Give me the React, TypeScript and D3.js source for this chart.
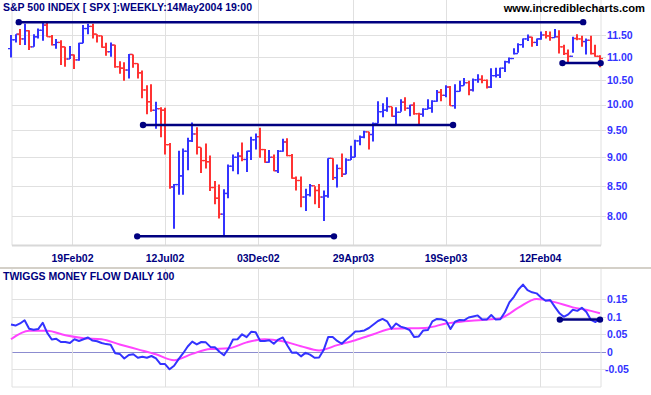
import { useEffect, useRef } from "react";
import * as d3 from "d3";

// weekly bars, S&P 500 / 100
const firstWeek = "2001-11-16";
const highs = [
  11.5, 11.52, 11.64, 11.76, 11.61, 11.52, 11.65, 11.81, 11.79, 11.5,
  11.41, 11.38, 11.23, 11.25, 11.06, 11.32, 11.73, 11.76, 11.76, 11.52,
  11.48, 11.32, 11.33, 11.28, 10.91, 10.89, 11.07, 11.06, 10.86, 10.71,
  10.4, 10.42, 10.06, 9.95, 9.94, 9.26, 8.53, 9.12, 9.16, 9.36,
  9.65, 9.56, 9.18, 9.25, 9.03, 8.58, 8.52, 8.44, 8.87, 9.05,
  9.09, 9.27, 9.12, 9.38, 9.44, 9.55, 9.15, 9.13, 9.05, 9.13,
  9.34, 9.35, 9.06, 8.66, 8.66, 8.45, 8.53, 8.49, 8.53, 8.42,
  8.98, 8.98, 8.87, 9.07, 8.98, 9.21, 9.32, 9.4, 9.49, 9.47,
  9.65, 10.07, 10.03, 10.15, 9.96, 9.95, 10.11, 10.15, 10.0, 10.05,
  9.84, 9.93, 10.11, 10.09, 10.3, 10.32, 10.4, 10.38, 10.42, 10.49,
  10.55, 10.49, 10.54, 10.63, 10.61, 10.52, 10.76, 10.77, 10.77, 10.92,
  10.99, 11.2, 11.31, 11.42, 11.51, 11.46, 11.42, 11.58, 11.59, 11.58,
  11.64, 11.61, 11.28, 11.17, 11.46, 11.52, 11.48, 11.42, 11.48, 11.28, 11.04,
];
const lows = [
  10.99, 11.33, 11.27, 11.27, 11.16, 11.23, 11.42, 11.37, 11.46, 11.26,
  11.19, 10.83, 10.79, 10.96, 10.74, 10.92, 11.31, 11.52, 11.42, 11.33,
  11.21, 11.03, 11.01, 10.77, 10.64, 10.49, 10.54, 10.77, 10.54, 10.13,
  9.81, 9.86, 9.53, 9.37, 9.05, 8.45, 7.8, 8.35, 8.35, 8.77,
  9.28, 9.05, 8.72, 8.8, 8.41, 8.19, 7.96, 7.69, 8.29, 8.75,
  8.7, 8.93, 8.74, 8.95, 9.14, 8.99, 8.9, 8.9, 8.75, 8.72,
  9.1, 9.02, 8.62, 8.42, 8.14, 8.08, 8.32, 8.19, 8.13, 7.92,
  8.3, 8.6, 8.47, 8.65, 8.7, 8.95, 9.0, 9.22, 9.35, 9.14,
  9.29, 9.63, 9.75, 9.86, 9.76, 9.6, 9.86, 9.88, 9.77, 9.8,
  9.62, 9.76, 9.91, 9.84, 10.06, 10.07, 10.15, 9.98, 9.92, 10.27,
  10.39, 10.19, 10.27, 10.45, 10.44, 10.33, 10.34, 10.56, 10.55, 10.68,
  10.86, 11.06, 11.1, 11.21, 11.36, 11.23, 11.25, 11.39, 11.42, 11.37,
  11.44, 11.08, 11.05, 10.88, 11.1, 11.38, 11.23, 11.06, 11.06, 11.01, 10.78,
];
const closes = [
  11.39, 11.52, 11.41, 11.6, 11.23, 11.46, 11.61, 11.73, 11.46, 11.28,
  11.33, 11.23, 10.96, 11.05, 10.94, 11.31, 11.65, 11.7, 11.52, 11.48,
  11.22, 11.12, 11.27, 10.79, 10.76, 10.72, 11.06, 10.86, 10.66, 10.3,
  10.06, 9.89, 9.92, 9.89, 9.23, 8.48, 8.52, 8.67, 9.11, 9.3,
  9.43, 9.18, 8.94, 8.92, 8.47, 8.29, 8.03, 8.37, 8.84, 9.0,
  9.02, 8.96, 9.11, 9.32, 9.38, 9.14, 8.91, 9.0, 8.76, 9.11,
  9.28, 9.03, 8.63, 8.59, 8.31, 8.35, 8.5, 8.42, 8.31, 8.33,
  8.98, 8.64, 8.8, 8.7, 8.95, 9.0, 9.3, 9.37, 9.47, 9.42,
  9.63, 9.86, 9.89, 9.96, 9.77, 9.85, 10.05, 9.93, 9.99, 9.82,
  9.81, 9.91, 9.93, 10.07, 10.25, 10.19, 10.36, 9.98, 10.27, 10.39,
  10.45, 10.3, 10.51, 10.52, 10.5, 10.36, 10.6, 10.61, 10.76, 10.9,
  10.97, 11.08, 11.28, 11.41, 11.45, 11.33, 11.41, 11.5, 11.48, 11.44,
  11.46, 11.23, 11.08, 11.02, 11.42, 11.41, 11.35, 11.38, 11.08, 11.02, 10.97,
];
const priceTicks = [8, 8.5, 9, 9.5, 10, 10.5, 11, 11.5];
const dateTicks = ["2002-02-19", "2002-07-12", "2002-12-03", "2003-04-29", "2003-09-19", "2004-02-12"];

// Twiggs money flow, one reading per week, and its signal line every 4 weeks
const tmf = [
  0.078, 0.075, 0.081, 0.09, 0.066, 0.063, 0.065, 0.083, 0.054, 0.035,
  0.037, 0.028, 0.028, 0.025, 0.036, 0.031, 0.036, 0.041, 0.032, 0.03,
  0.025, 0.022, 0.02, -0.004, -0.006, -0.019, -0.009, -0.007, -0.017, -0.014,
  -0.017, -0.012, -0.019, -0.035, -0.035, -0.05, -0.04, -0.021, -0.004, 0.015,
  0.029, 0.021, 0.028, 0.027, 0.014, 0.013, 0.0, -0.01, 0.009, 0.035,
  0.036, 0.05, 0.042, 0.057, 0.056, 0.031, 0.031, 0.033, 0.023, 0.035,
  0.041, 0.018, -0.003, -0.002, -0.013, -0.003, -0.008, -0.017, -0.016, 0.005,
  0.042, 0.042, 0.031, 0.023, 0.035, 0.046, 0.058, 0.059, 0.061, 0.068,
  0.078, 0.088, 0.094, 0.087, 0.066, 0.081, 0.072, 0.068, 0.062, 0.042,
  0.044, 0.061, 0.062, 0.087, 0.094, 0.093, 0.089, 0.065, 0.086, 0.091,
  0.09, 0.098, 0.101, 0.104, 0.092, 0.092, 0.105, 0.092, 0.093, 0.113,
  0.141, 0.157, 0.178, 0.192, 0.176, 0.17, 0.167, 0.155, 0.146, 0.148,
  0.129, 0.111, 0.1, 0.107, 0.12, 0.117, 0.126, 0.114, 0.091, 0.085, 0.094,
];
const signalWeeks = [0, 4, 8, 12, 16, 20, 24, 28, 32, 36, 40, 44, 48, 52, 56, 60, 64, 68, 72, 76, 80, 84, 88, 92, 96, 100, 104, 108, 112, 116, 120, 124, 128, 130];
const signal = [
  0.036, 0.06, 0.06, 0.047, 0.039, 0.036, 0.021, 0.007, -0.007, -0.024,
  -0.006, 0.008, 0.01, 0.027, 0.036, 0.03, 0.016, 0.004, 0.019, 0.033,
  0.05, 0.066, 0.067, 0.069, 0.081, 0.087, 0.091, 0.096, 0.126, 0.151,
  0.142, 0.127, 0.117, 0.11,
];
const tmfTicks = [-0.05, 0, 0.05, 0.1, 0.15];
const tmfTickLabels = ["-0.05", "0", "0.05", "0.1", "0.15"];

// drawn support / resistance lines
const priceLines = [
  { from: "2001-11-28", to: "2004-04-18", level: 11.8 },
  { from: "2002-06-08", to: "2003-09-30", level: 9.6 },
  { from: "2002-05-30", to: "2003-03-30", level: 7.68 },
  { from: "2004-03-17", to: "2004-05-15", level: 10.87 },
];
const tmfLines = [{ from: "2004-03-13", to: "2004-05-14", level: 0.092 }];

const NAVY = "#000080";
const BLUE = "#3333ff";
const RED = "#ff3333";
const GRID = "#e0e0e0";
const FONT = "'Liberation Sans', Arial, sans-serif";

function App() {
  const ref = useRef<SVGSVGElement>(null);

  useEffect(() => {
    if (!ref.current) return;
    const svg = d3.select(ref.current);
    svg.selectAll("*").remove();

    const parse = d3.timeParse("%Y-%m-%d");
    const start = parse(firstWeek)!;
    const weeks = closes.map((_, i) => d3.timeDay.offset(start, 7 * i));

    const left = 12, right = 601;
    const x = d3.scaleTime().domain([weeks[0], weeks[weeks.length - 1]]).range([11, 600]);
    const y = d3.scaleLog().domain([8, 11.5]).range([216, 35]);
    const y2 = d3.scaleLinear().domain([-0.05, 0.15]).range([369.3, 299.3]);

    const top = { t: 0, b: 245.5 };
    const bot = { t: 269, b: 387 };

    svg.append("rect").attr("width", 651).attr("height", 395).attr("fill", "#fff");

    // ---- price panel grid
    const g1 = svg.append("g");
    g1.selectAll(".hg")
      .data(priceTicks)
      .enter()
      .append("line")
      .attr("x1", left)
      .attr("x2", right + 5)
      .attr("y1", (d) => Math.round(y(d)) + 0.5)
      .attr("y2", (d) => Math.round(y(d)) + 0.5)
      .attr("stroke", GRID);
    g1.selectAll(".vg")
      .data(dateTicks)
      .enter()
      .append("line")
      .attr("x1", (d) => Math.round(x(parse(d)!)) + 0.5)
      .attr("x2", (d) => Math.round(x(parse(d)!)) + 0.5)
      .attr("y1", top.t)
      .attr("y2", top.b)
      .attr("stroke", GRID);
    g1.append("line").attr("x1", left).attr("x2", left).attr("y1", top.t).attr("y2", top.b).attr("stroke", GRID);
    g1.append("line").attr("x1", right).attr("x2", right).attr("y1", top.t).attr("y2", top.b).attr("stroke", GRID);
    g1.append("line").attr("x1", left).attr("x2", right).attr("y1", top.b).attr("y2", top.b)
      .attr("stroke", "#d8d8d8").attr("stroke-width", 2);

    g1.selectAll(".pl")
      .data(priceTicks)
      .enter()
      .append("text")
      .attr("x", 607)
      .attr("y", (d) => y(d))
      .attr("dy", "0.36em")
      .attr("fill", BLUE)
      .style("font", `bold 10.5px ${FONT}`)
      .text((d) => d3.format(".2f")(d));

    g1.selectAll(".dl")
      .data(dateTicks)
      .enter()
      .append("text")
      .attr("x", (d) => x(parse(d)!))
      .attr("y", 261.5)
      .attr("text-anchor", "middle")
      .attr("fill", NAVY)
      .style("font", `bold 10.5px ${FONT}`)
      .text((d) => d3.timeFormat("%d%b%y")(parse(d)!));

    // ---- bars
    const bars = svg.append("g");
    closes.forEach((c, i) => {
      const prev = i > 0 ? closes[i - 1] : lows[i] + (c - lows[i]) * 0.5;
      const col = c >= prev ? BLUE : RED;
      const bx = Math.round(x(weeks[i]));
      bars.append("line")
        .attr("x1", bx).attr("x2", bx)
        .attr("y1", y(highs[i])).attr("y2", y(lows[i]))
        .attr("stroke", col).attr("stroke-width", 2);
      bars.append("line")
        .attr("x1", bx - 3).attr("x2", bx)
        .attr("y1", y(prev)).attr("y2", y(prev))
        .attr("stroke", col).attr("stroke-width", 1.3);
      bars.append("line")
        .attr("x1", bx).attr("x2", bx + 3)
        .attr("y1", y(c)).attr("y2", y(c))
        .attr("stroke", col).attr("stroke-width", 1.3);
    });

    // ---- trend lines
    const drawLevel = (g: any, ln: { from: string; to: string; level: number }, ys: (v: number) => number) => {
      const x1 = x(parse(ln.from)!), x2 = x(parse(ln.to)!), yy = ys(ln.level);
      g.append("line").attr("x1", x1).attr("x2", x2).attr("y1", yy).attr("y2", yy)
        .attr("stroke", NAVY).attr("stroke-width", 2.5);
      [x1, x2].forEach((cx) => g.append("circle").attr("cx", cx).attr("cy", yy).attr("r", 3.2).attr("fill", NAVY));
    };
    const tl = svg.append("g");
    priceLines.forEach((ln) => drawLevel(tl, ln, (v) => y(v)));

    // ---- titles
    svg.append("text").attr("x", 3).attr("y", 11).attr("fill", NAVY)
      .style("font", `bold 10.5px ${FONT}`).text("S&P 500 INDEX [ SPX ]:WEEKLY:14May2004 19:00");
    svg.append("text").attr("x", 645).attr("y", 12).attr("text-anchor", "end").attr("fill", "#000")
      .style("font", `bold 11.2px ${FONT}`).text("www.incrediblecharts.com");

    // separator
    svg.append("line").attr("x1", 0).attr("x2", 651).attr("y1", 268).attr("y2", 268)
      .attr("stroke", "#d4d0c8").attr("stroke-width", 2);

    // ---- money flow panel
    const g2 = svg.append("g");
    g2.selectAll(".hg2")
      .data(tmfTicks)
      .enter()
      .append("line")
      .attr("x1", left)
      .attr("x2", right + 5)
      .attr("y1", (d) => Math.round(y2(d)) + 0.5)
      .attr("y2", (d) => Math.round(y2(d)) + 0.5)
      .attr("stroke", (d) => (d === 0 ? "#8c8cd0" : GRID));
    g2.selectAll(".vg2")
      .data(dateTicks)
      .enter()
      .append("line")
      .attr("x1", (d) => Math.round(x(parse(d)!)) + 0.5)
      .attr("x2", (d) => Math.round(x(parse(d)!)) + 0.5)
      .attr("y1", bot.t)
      .attr("y2", bot.b)
      .attr("stroke", GRID);
    g2.append("line").attr("x1", left).attr("x2", left).attr("y1", bot.t).attr("y2", bot.b).attr("stroke", GRID);
    g2.append("line").attr("x1", right).attr("x2", right).attr("y1", bot.t).attr("y2", bot.b).attr("stroke", GRID);
    g2.append("line").attr("x1", left).attr("x2", right).attr("y1", bot.b).attr("y2", bot.b).attr("stroke", GRID);

    g2.selectAll(".tl")
      .data(tmfTicks)
      .enter()
      .append("text")
      .attr("x", (d) => (d < 0 ? 605 : 607))
      .attr("y", (d) => y2(d))
      .attr("dy", "0.36em")
      .attr("fill", BLUE)
      .style("font", `bold 10.5px ${FONT}`)
      .text((d, i) => tmfTickLabels[i]);

    g2.append("text").attr("x", 3).attr("y", 279.5).attr("fill", NAVY)
      .style("font", `bold 10.5px ${FONT}`).text("TWIGGS MONEY FLOW DAILY 100");

    const sigLine = d3.line<number>()
      .x((_, i) => x(weeks[signalWeeks[i]]))
      .y((d) => y2(d))
      .curve(d3.curveMonotoneX);
    g2.append("path").attr("d", sigLine(signal)!).attr("fill", "none")
      .attr("stroke", "#ff44ff").attr("stroke-width", 2);

    const tmfLine = d3.line<number>()
      .x((_, i) => x(weeks[i]))
      .y((d) => y2(d));
    g2.append("path").attr("d", tmfLine(tmf)!).attr("fill", "none")
      .attr("stroke", BLUE).attr("stroke-width", 2).attr("stroke-linejoin", "round");

    tmfLines.forEach((ln) => drawLevel(g2, ln, (v) => y2(v)));
  }, []);

  return (
    <svg
      ref={ref}
      width={651}
      height={395}
      style={{ position: "absolute", left: 0, top: 0, display: "block" }}
    />
  );
}

export default App;
